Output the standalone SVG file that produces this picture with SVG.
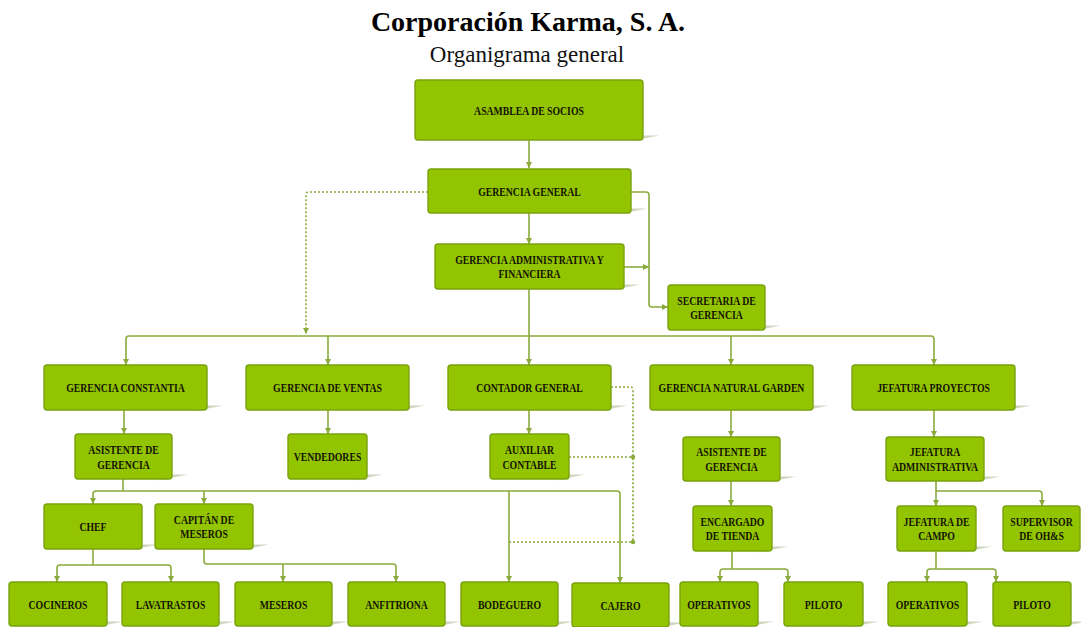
<svg xmlns="http://www.w3.org/2000/svg" width="1081" height="627" viewBox="0 0 1081 627">
<style>
.bx{fill:#93c400;stroke:#7aa20e;stroke-width:1.4}
.sh{fill:#cfd6bf}
.t{font-family:"Liberation Serif",serif;font-weight:bold;font-size:12.5px;fill:#141400;text-anchor:middle}
.c{fill:none;stroke:#8aab3c;stroke-width:1.6}
.ca{fill:none;stroke:#8aab3c;stroke-width:1.6;marker-end:url(#ar)}
.d{fill:none;stroke:#8aab3c;stroke-width:1.6;stroke-dasharray:2 2}
.da{fill:none;stroke:#8aab3c;stroke-width:1.6;stroke-dasharray:2 2;marker-end:url(#ar)}
.dot{fill:#8aab3c}
</style>
<defs>
<marker id="ar" markerUnits="userSpaceOnUse" markerWidth="7" markerHeight="7" refX="6" refY="3" orient="auto">
<path d="M0,0 L6,3 L0,6 z" fill="#8aab3c"/>
</marker>
<polygon id="sh" points="-14,1.5 16,-4.5 0,-4.5"/>
</defs>
<rect width="1081" height="627" fill="#ffffff"/>
<text x="528" y="31" style="font-family:'Liberation Serif',serif;font-weight:bold;font-size:28px;fill:#000" text-anchor="middle">Corporación Karma, S. A.</text>
<text x="527" y="62" style="font-family:'Liberation Serif',serif;font-size:23px;fill:#111" text-anchor="middle">Organigrama general</text>

<g id="connectors">
<path class="ca" d="M529 140 V168"/>
<path class="ca" d="M529 213 V244"/>
<path class="ca" d="M631 192 H646 Q649 192 649 195 V304 Q649 307 652 307 H668"/>
<path class="ca" d="M624 267 H649"/>
<path class="ca" d="M529 289 V365"/>
<path class="c" d="M129 336 H931"/>
<path class="ca" d="M129 336 Q126 336 126 339 V365"/>
<path class="ca" d="M931 336 Q934 336 934 339 V365"/>
<path class="ca" d="M328 336 V365"/>
<path class="ca" d="M731 336 V365"/>
<path class="da" d="M428 192 H309 Q306 192 306 195 V334"/>
<path class="ca" d="M124 410 V434"/>
<path class="ca" d="M328 410 V434"/>
<path class="ca" d="M529 410 V434"/>
<path class="ca" d="M731 410 V437"/>
<path class="ca" d="M934 410 V437"/>
<path class="d" d="M611 387 H630 Q633 387 633 390 V542"/>
<path class="d" d="M569 457 H633"/>
<path class="d" d="M509 542 H633"/>
<circle class="dot" cx="633" cy="457" r="2.2"/>
<circle class="dot" cx="633" cy="542" r="2.2"/>
<path class="c" d="M123 479 V491"/>
<path class="ca" d="M96 491 H617 Q620 491 620 494 V583"/>
<path class="ca" d="M96 491 Q93 491 93 494 V504"/>
<path class="ca" d="M204 491 V504"/>
<path class="ca" d="M509 491 V582"/>
<path class="c" d="M93 549 V565"/>
<path class="ca" d="M60 565 H168 Q171 565 171 568 V582"/>
<path class="ca" d="M60 565 Q57 565 57 568 V582"/>
<path class="ca" d="M204 549 V561 Q204 564 207 564 H393 Q396 564 396 567 V582"/>
<path class="ca" d="M283 564 V582"/>
<path class="ca" d="M731 481 V506"/>
<path class="c" d="M732 551 V569"/>
<path class="ca" d="M723 569 H785 Q788 569 788 572 V582"/>
<path class="ca" d="M723 569 Q720 569 720 572 V582"/>
<path class="ca" d="M936 481 V491 H1039 Q1042 491 1042 494 V506"/>
<path class="ca" d="M936 491 V506"/>
<path class="c" d="M936 551 V569"/>
<path class="ca" d="M930 569 H993 Q996 569 996 572 V582"/>
<path class="ca" d="M930 569 Q927 569 927 572 V582"/>
</g>

<g id="asamblea"><use href="#sh" class="sh" x="643" y="140"/><rect class="bx" x="415" y="80" width="228" height="60" rx="3"/><text class="t" transform="translate(529 115) scale(.78 1)">ASAMBLEA DE SOCIOS</text></g>
<g id="gerencia-general"><use href="#sh" class="sh" x="631" y="213"/><rect class="bx" x="428" y="169" width="203" height="44" rx="3"/><text class="t" transform="translate(529.5 195.5) scale(.78 1)">GERENCIA GENERAL</text></g>
<g id="gerencia-adm"><use href="#sh" class="sh" x="624" y="289"/><rect class="bx" x="435" y="244" width="189" height="45" rx="3"/><text class="t" transform="translate(529.5 266.5) scale(.78 1)"><tspan x="0" y="-3">GERENCIA ADMINISTRATIVA Y</tspan><tspan x="0" y="12">FINANCIERA</tspan></text></g>
<g id="secretaria"><use href="#sh" class="sh" x="765" y="330"/><rect class="bx" x="668" y="285" width="97" height="45" rx="3"/><text class="t" transform="translate(716.5 307.5) scale(.78 1)"><tspan x="0" y="-3">SECRETARIA DE</tspan><tspan x="0" y="12">GERENCIA</tspan></text></g>

<g id="gerencia-constantia"><use href="#sh" class="sh" x="207" y="410"/><rect class="bx" x="44" y="365" width="163" height="45" rx="3"/><text class="t" transform="translate(125.5 392) scale(.78 1)">GERENCIA CONSTANTIA</text></g>
<g id="gerencia-ventas"><use href="#sh" class="sh" x="409" y="410"/><rect class="bx" x="246" y="365" width="163" height="45" rx="3"/><text class="t" transform="translate(327.5 392) scale(.78 1)">GERENCIA DE VENTAS</text></g>
<g id="contador-general"><use href="#sh" class="sh" x="611" y="410"/><rect class="bx" x="448" y="365" width="163" height="45" rx="3"/><text class="t" transform="translate(529.5 392) scale(.78 1)">CONTADOR GENERAL</text></g>
<g id="gerencia-natural-garden"><use href="#sh" class="sh" x="813" y="410"/><rect class="bx" x="650" y="365" width="163" height="45" rx="3"/><text class="t" transform="translate(731.5 392) scale(.78 1)">GERENCIA NATURAL GARDEN</text></g>
<g id="jefatura-proyectos"><use href="#sh" class="sh" x="1015" y="410"/><rect class="bx" x="852" y="365" width="163" height="45" rx="3"/><text class="t" transform="translate(933.5 392) scale(.78 1)">JEFATURA PROYECTOS</text></g>

<g id="asistente-gerencia-1"><use href="#sh" class="sh" x="172" y="479"/><rect class="bx" x="75" y="434" width="97" height="45" rx="3"/><text class="t" transform="translate(123.5 457) scale(.78 1)"><tspan x="0" y="-3">ASISTENTE DE</tspan><tspan x="0" y="12">GERENCIA</tspan></text></g>
<g id="vendedores"><use href="#sh" class="sh" x="367" y="479"/><rect class="bx" x="288" y="434" width="79" height="45" rx="3"/><text class="t" transform="translate(327.5 461) scale(.78 1)">VENDEDORES</text></g>
<g id="auxiliar-contable"><use href="#sh" class="sh" x="569" y="479"/><rect class="bx" x="490" y="434" width="79" height="45" rx="3"/><text class="t" transform="translate(529.5 457) scale(.78 1)"><tspan x="0" y="-3">AUXILIAR</tspan><tspan x="0" y="12">CONTABLE</tspan></text></g>
<g id="asistente-gerencia-2"><use href="#sh" class="sh" x="780" y="481"/><rect class="bx" x="683" y="437" width="97" height="44" rx="3"/><text class="t" transform="translate(731.5 459) scale(.78 1)"><tspan x="0" y="-3">ASISTENTE DE</tspan><tspan x="0" y="12">GERENCIA</tspan></text></g>
<g id="jefatura-administrativa"><use href="#sh" class="sh" x="984" y="481"/><rect class="bx" x="886" y="437" width="98" height="44" rx="3"/><text class="t" transform="translate(935 459) scale(.78 1)"><tspan x="0" y="-3">JEFATURA</tspan><tspan x="0" y="12">ADMINISTRATIVA</tspan></text></g>

<g id="chef"><use href="#sh" class="sh" x="142" y="549"/><rect class="bx" x="44" y="504" width="98" height="45" rx="3"/><text class="t" transform="translate(93 531) scale(.78 1)">CHEF</text></g>
<g id="capitan-meseros"><use href="#sh" class="sh" x="253" y="549"/><rect class="bx" x="155" y="504" width="98" height="45" rx="3"/><text class="t" transform="translate(204 526.5) scale(.78 1)"><tspan x="0" y="-3">CAPITÁN DE</tspan><tspan x="0" y="12">MESEROS</tspan></text></g>
<g id="encargado-tienda"><use href="#sh" class="sh" x="772" y="551"/><rect class="bx" x="693" y="506" width="79" height="45" rx="3"/><text class="t" transform="translate(732.5 528.5) scale(.78 1)"><tspan x="0" y="-3">ENCARGADO</tspan><tspan x="0" y="12">DE TIENDA</tspan></text></g>
<g id="jefatura-campo"><use href="#sh" class="sh" x="976" y="551"/><rect class="bx" x="897" y="506" width="79" height="45" rx="3"/><text class="t" transform="translate(936.5 528.5) scale(.78 1)"><tspan x="0" y="-3">JEFATURA DE</tspan><tspan x="0" y="12">CAMPO</tspan></text></g>
<g id="supervisor-ohs"><rect class="bx" x="1003" y="506" width="77" height="45" rx="3"/><text class="t" transform="translate(1041.5 528.5) scale(.78 1)"><tspan x="0" y="-3">SUPERVISOR</tspan><tspan x="0" y="12">DE OH&amp;S</tspan></text></g>

<g id="cocineros"><use href="#sh" class="sh" x="107" y="626"/><rect class="bx" x="9" y="582" width="98" height="44" rx="3"/><text class="t" transform="translate(58 608.5) scale(.78 1)">COCINEROS</text></g>
<g id="lavatrastos"><use href="#sh" class="sh" x="219" y="626"/><rect class="bx" x="122" y="582" width="97" height="44" rx="3"/><text class="t" transform="translate(170.5 608.5) scale(.78 1)">LAVATRASTOS</text></g>
<g id="meseros"><use href="#sh" class="sh" x="332" y="626"/><rect class="bx" x="235" y="582" width="97" height="44" rx="3"/><text class="t" transform="translate(283.5 608.5) scale(.78 1)">MESEROS</text></g>
<g id="anfitriona"><use href="#sh" class="sh" x="445" y="626"/><rect class="bx" x="348" y="582" width="97" height="44" rx="3"/><text class="t" transform="translate(396.5 608.5) scale(.78 1)">ANFITRIONA</text></g>
<g id="bodeguero"><use href="#sh" class="sh" x="558" y="626"/><rect class="bx" x="461" y="582" width="97" height="44" rx="3"/><text class="t" transform="translate(509.5 608.5) scale(.78 1)">BODEGUERO</text></g>
<g id="cajero"><use href="#sh" class="sh" x="669" y="627"/><rect class="bx" x="572" y="583" width="97" height="44" rx="3"/><text class="t" transform="translate(620.5 609.5) scale(.78 1)">CAJERO</text></g>
<g id="operativos-1"><use href="#sh" class="sh" x="758" y="626"/><rect class="bx" x="680" y="582" width="78" height="44" rx="3"/><text class="t" transform="translate(719 608.5) scale(.78 1)">OPERATIVOS</text></g>
<g id="piloto-1"><use href="#sh" class="sh" x="863" y="626"/><rect class="bx" x="784" y="582" width="79" height="44" rx="3"/><text class="t" transform="translate(823.5 608.5) scale(.78 1)">PILOTO</text></g>
<g id="operativos-2"><use href="#sh" class="sh" x="967" y="626"/><rect class="bx" x="888" y="582" width="79" height="44" rx="3"/><text class="t" transform="translate(927.5 608.5) scale(.78 1)">OPERATIVOS</text></g>
<g id="piloto-2"><use href="#sh" class="sh" x="1071" y="626"/><rect class="bx" x="993" y="582" width="78" height="44" rx="3"/><text class="t" transform="translate(1032 608.5) scale(.78 1)">PILOTO</text></g>
</svg>
